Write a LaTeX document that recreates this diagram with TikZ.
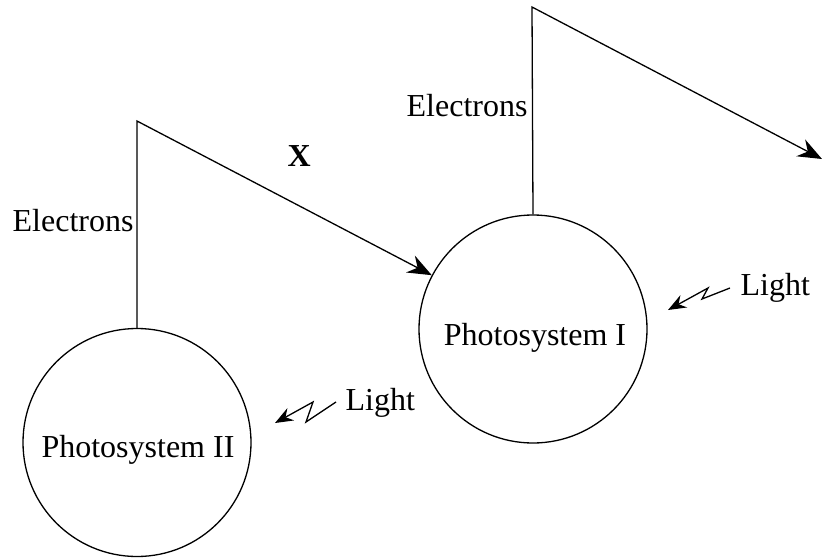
\documentclass[tikz,border=0pt]{standalone}
\usepackage{fontspec}
\setmainfont{Liberation Serif}
\usetikzlibrary{arrows.meta}
\tikzset{
  flow/.style={-{Stealth[length=24pt,width=19pt,inset=8pt]}},
  light/.style={-{Stealth[length=18pt,width=14pt,inset=6pt]}}
}
\begin{document}
\begin{tikzpicture}[x=1pt,y=-1pt,
  line width=1.3pt,
  ps/.style={circle,draw,line width=1.3pt,minimum size=228pt,inner sep=0pt},
  lbl/.style={inner sep=0pt,anchor=base west,font=\fontsize{32}{36}\selectfont},
  ctr/.style={inner sep=0pt,anchor=base,font=\fontsize{32}{36}\selectfont}]
\useasboundingbox (0,0) rectangle (822,557);
\node[ps] (psII) at (137,442.5) {};
\node[ps] (psI) at (533,329) {};
\node[ctr] (tII) at (138,457) {Photosystem II};
\node[ctr] (tI) at (535,345) {Photosystem I};
\coordinate (apexII) at (137,121);
\coordinate (apexI) at (532,7);
\coordinate (out) at (822,159);
\draw[flow] (psII.north) -- (apexII) -- (psI.152);
\draw[flow] (psI.north) -- (apexI) -- (out);
\node[lbl] (eII) at (12,231) {Electrons};
\node[lbl] (eI) at (406,116) {Electrons};
\node[lbl,font=\fontsize{32}{36}\selectfont\bfseries] (x) at (287,166) {X};
\node[lbl] (lII) at (345,410) {Light};
\node[lbl] (lI) at (740,295) {Light};
\coordinate (zA1) at (336,402);
\coordinate (zA2) at (306,422);
\coordinate (zA3) at (313,402);
\coordinate (zA4) at (275,423);
\draw[light] (zA1) -- (zA2) -- (zA3) -- (zA4);
\coordinate (zB1) at (730,288);
\coordinate (zB2) at (702,299);
\coordinate (zB3) at (708,288);
\coordinate (zB4) at (668,310);
\draw[light] (zB1) -- (zB2) -- (zB3) -- (zB4);
\end{tikzpicture}
\end{document}
